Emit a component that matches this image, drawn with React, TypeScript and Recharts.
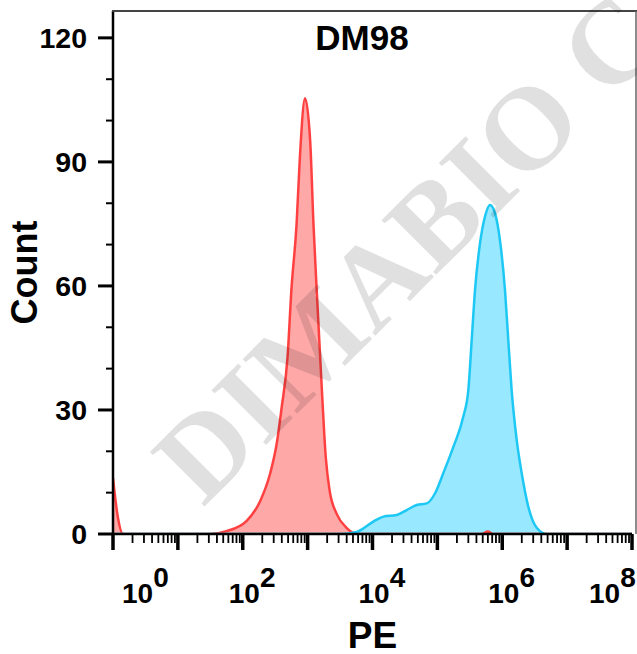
import React from 'react';
import { ComposedChart, Area, XAxis, YAxis } from 'recharts';

// Control (unstained) histogram: PE intensity vs count
const controlPE = [1, 1.19, 1.43, 10, 31, 56, 115, 186, 263, 339, 398, 490, 562, 676, 759, 912, 1096, 1230, 1380, 1660, 1905, 2188, 2818, 3981, 5754, 100000, 480000, 600000, 720000, 100000000];
const controlCount = [13.5, 4, 0, 0, 0, 0.7, 3.2, 8, 14.5, 22.5, 30.6, 42.7, 59, 75, 91, 105.4, 95, 75, 59, 34.7, 18.5, 10.4, 4.8, 1.5, 0, 0, 0, 0.6, 0, 0];

// DM98 stained histogram
const dm98PE = [1, 1000, 3162, 5702, 10280, 14690, 23600, 33650, 47970, 68390, 91830, 123300, 175800, 251200, 299900, 338100, 380200, 453900, 542000, 647100, 772700, 922500, 1102000, 1239000, 1396000, 1671000, 1995000, 2523000, 3396000, 4842000, 100000000];
const dm98Count = [0, 0, 0, 0.5, 3, 4.2, 4.6, 5.8, 7, 7.4, 9.8, 14.7, 21, 28.4, 34.8, 46.9, 59, 70.3, 76.8, 79.6, 77.6, 71, 59, 46.9, 34.8, 22.7, 14.7, 6.6, 1.5, 0, 0];

// Axis ticks
const decadeExponents = [0, 1, 2, 3, 4, 5, 6, 7, 8];
const minorMultipliers = [2, 3, 4, 5, 6, 7, 8, 9];
const labeledExponents = [0, 2, 4, 6, 8];
const yTicks = [0, 10, 20, 30, 40, 50, 60, 70, 80, 90, 100, 110, 120];
const yMajorStep = 30;

const title = 'DM98';
const xTitle = 'PE';
const yTitle = 'Count';
const watermark = 'DIMABIO CO';

const controlData = controlPE.map((x, i) => ({ x, y: controlCount[i] }));
const dm98Data = dm98PE.map((x, i) => ({ x, y: dm98Count[i] }));

const xTicks: number[] = [];
decadeExponents.forEach((e) => {
  xTicks.push(Math.pow(10, e));
  if (e < decadeExponents[decadeExponents.length - 1]) {
    minorMultipliers.forEach((m) => xTicks.push(m * Math.pow(10, e)));
  }
});

const FONT = '"Liberation Sans", Arial, Helvetica, sans-serif';

const XTick = (props: any) => {
  const { x, y, payload } = props;
  const v = payload.value;
  const e = Math.log10(v);
  const exp = Math.round(e);
  const isMajor = Math.abs(e - exp) < 1e-6;
  const showLabel = isMajor && labeledExponents.includes(exp);
  let dx = -14;
  if (exp === labeledExponents[0]) dx = 9;
  if (exp === labeledExponents[labeledExponents.length - 1]) dx = -43;
  return (
    <g>
      <line x1={x} x2={x} y1={y} y2={y + (isMajor ? 16 : 9)} stroke="#000" strokeWidth={isMajor ? 3.5 : 1.8} />
      {showLabel && (
        <text x={x + dx} y={y + 69} fontFamily={FONT} fontWeight="bold" fontSize={28} fill="#000">
          10<tspan dy={-16}>{exp}</tspan>
        </text>
      )}
    </g>
  );
};

const YTick = (props: any) => {
  const { x, y, payload } = props;
  const v = payload.value;
  const major = v % yMajorStep === 0;
  return (
    <g>
      <line x1={x - (major ? 15 : 7)} x2={x} y1={y} y2={y} stroke="#000" strokeWidth={major ? 3 : 2} />
      {major && (
        <text x={x - 26} y={y} dy={10} textAnchor="end" fontFamily={FONT} fontWeight="bold" fontSize={28.5} fill="#000">
          {v}
        </text>
      )}
    </g>
  );
};

export default function App() {
  return (
    <div style={{ position: 'absolute', left: 0, top: 0, width: 637, height: 654, background: '#fff' }}>
      <ComposedChart width={637} height={654} margin={{ top: 11, right: 5, bottom: 0, left: 0 }}>
        <XAxis
          dataKey="x"
          type="number"
          scale="log"
          domain={[1, 100000000]}
          ticks={xTicks}
          interval={0}
          tick={<XTick />}
          tickLine={false}
          tickSize={0}
          tickMargin={0}
          height={120}
          axisLine={{ stroke: '#000', strokeWidth: 2.5 }}
          allowDataOverflow
          label={{
            content: (p: any) => {
              const vb = p.viewBox;
              return (
                <text x={vb.x + vb.width / 2} y={648} textAnchor="middle" fontFamily={FONT} fontWeight="bold" fontSize={37} fill="#000">
                  {xTitle}
                </text>
              );
            },
          }}
        />
        <YAxis
          type="number"
          domain={[0, 126.5]}
          ticks={yTicks}
          interval={0}
          tick={<YTick />}
          tickLine={false}
          tickSize={0}
          tickMargin={0}
          width={113}
          axisLine={{ stroke: '#000', strokeWidth: 2.5 }}
          allowDataOverflow
          label={{
            content: (p: any) => {
              const vb = p.viewBox;
              const cy = vb.y + vb.height / 2;
              return (
                <text x={37} y={cy} transform={`rotate(-90 37 ${cy})`} textAnchor="middle" fontFamily={FONT} fontWeight="bold" fontSize={36} fill="#000">
                  {yTitle}
                </text>
              );
            },
          }}
        />
        <Area data={controlData} dataKey="y" type="monotone" stroke="none" fill="rgb(255,168,168)" fillOpacity={1} isAnimationActive={false} />
        <Area data={dm98Data} dataKey="y" type="monotone" stroke="none" fill="rgb(152,232,255)" fillOpacity={1} isAnimationActive={false} />
        <Area data={controlData} dataKey="y" type="monotone" stroke="rgb(255,64,64)" strokeWidth={2.5} fill="none" isAnimationActive={false} />
        <Area data={dm98Data} dataKey="y" type="monotone" stroke="rgb(30,200,245)" strokeWidth={2.5} fill="none" isAnimationActive={false} />
      </ComposedChart>
      <svg width={637} height={654} style={{ position: 'absolute', left: 0, top: 0, pointerEvents: 'none' }}>
        <line x1={112} x2={637} y1={11} y2={11} stroke="#444" strokeWidth={2} />
        <line x1={636} x2={636} y1={11} y2={534} stroke="#666" strokeWidth={1.5} />
        <text x={362} y={50} textAnchor="middle" fontFamily={FONT} fontWeight="bold" fontSize={35} fill="#000">
          {title}
        </text>
        <text
          x={203}
          y={508}
          transform="rotate(-45 203 508)"
          fontFamily='"Liberation Serif", "Times New Roman", serif'
          fontWeight="bold"
          fontSize={118}
          fill="#000"
          fillOpacity={0.12}
        >
          {watermark}
        </text>
      </svg>
    </div>
  );
}
